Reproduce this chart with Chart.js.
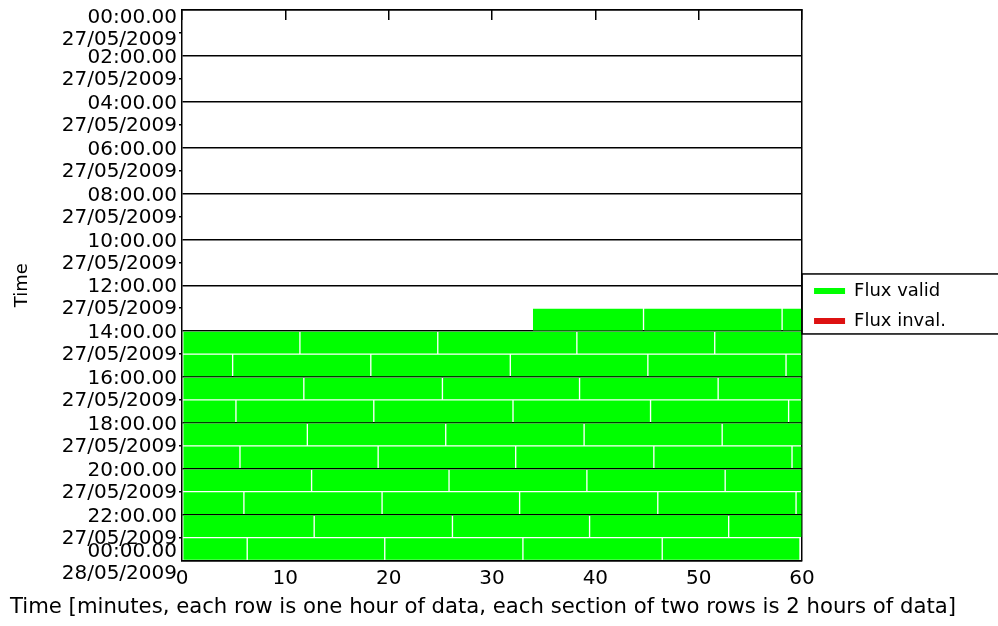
<!DOCTYPE html>
<html><head><meta charset="utf-8">
<script src="https://cdn.jsdelivr.net/npm/chart.js@4.4.1/dist/chart.umd.min.js"></script>
<style>html,body{margin:0;padding:0;background:#fff;} #wrap{width:998px;height:626px;}</style>
</head><body><div id="wrap"><canvas id="c" width="998" height="626"></canvas></div>
<script>
// ---- y-axis section labels (one per 2-hour section boundary) ----
const sectionHours = [0, 2, 4, 6, 8, 10, 12, 14, 16, 18, 20, 22, 24];
const sectionTimes = ['00:00.00','02:00.00','04:00.00','06:00.00','08:00.00','10:00.00','12:00.00','14:00.00','16:00.00','18:00.00','20:00.00','22:00.00','00:00.00'];
const sectionDates = ['27/05/2009','27/05/2009','27/05/2009','27/05/2009','27/05/2009','27/05/2009','27/05/2009','27/05/2009','27/05/2009','27/05/2009','27/05/2009','27/05/2009','28/05/2009'];
// ---- x-axis ticks (minutes within the hour) ----
const minuteTicks = [0, 10, 20, 30, 40, 50, 60];

// ---- valid-flux data: file boundaries (minutes) for each hourly row ----
const row13 = [33.9, 44.66, 58.07, 60];
const row14 = [0, 11.41, 24.75, 38.21, 51.55, 60];
const row15 = [0, 4.90, 18.27, 31.77, 45.08, 58.45, 60];
const row16 = [0, 11.79, 25.20, 38.47, 51.88, 60];
const row17 = [0, 5.22, 18.56, 32.03, 45.34, 58.70, 60];
const row18 = [0, 12.13, 25.52, 38.91, 52.27, 60];
const row19 = [0, 5.61, 18.98, 32.29, 45.66, 59.03, 60];
const row20 = [0, 12.54, 25.84, 39.18, 52.56, 60];
const row21 = [0, 5.99, 19.36, 32.67, 46.04, 59.42, 60];
const row22 = [0, 12.79, 26.17, 39.44, 52.90, 60];
const row23 = [0, 6.31, 19.62, 32.99, 46.47, 59.8];
const validHours = [13, 14, 15, 16, 17, 18, 19, 20, 21, 22, 23];
const validRows = [row13, row14, row15, row16, row17, row18, row19, row20, row21, row22, row23];
// ---- invalid-flux data: none in this period ----
const invalidHours = [];
const invalidRows = [];

function toSegments(hours, rows) {
  const out = [];
  hours.forEach((h, i) => {
    const b = rows[i];
    for (let k = 0; k < b.length - 1; k++) out.push({ x: [b[k], b[k + 1]], y: h + 0.5 });
  });
  return out;
}

Chart.defaults.font.family = "'DejaVu Sans', sans-serif";
Chart.defaults.color = '#000';
const BLACK = '#000';
const NONE = 'rgba(0,0,0,0)';

const legendFrame = {
  id: 'legendFrame',
  afterDraw(chart) {
    const lg = chart.legend;
    if (!lg || !lg.legendHitBoxes || !lg.legendHitBoxes.length) return;
    const hb = lg.legendHitBoxes;
    const last = hb[hb.length - 1];
    const top = hb[0].top - 8;
    const bottom = last.top + last.height + 4;
    const left = chart.chartArea.right;
    const ctx = chart.ctx;
    ctx.save();
    ctx.strokeStyle = BLACK;
    ctx.lineWidth = 1.5;
    ctx.strokeRect(left, top, chart.width - left + 10, bottom - top);
    ctx.restore();
  }
};

new Chart(document.getElementById('c'), {
  type: 'bar',
  data: {
    datasets: [
      { label: 'Flux valid', data: toSegments(validHours, validRows), backgroundColor: '#00ff00',
        borderColor: NONE, borderWidth: 1, borderSkipped: false, grouped: false, barPercentage: 1, categoryPercentage: 1 },
      { label: 'Flux inval.', data: toSegments(invalidHours, invalidRows), backgroundColor: '#dd1111',
        borderColor: NONE, borderWidth: 1, borderSkipped: false, grouped: false, barPercentage: 1, categoryPercentage: 1 }
    ]
  },
  options: {
    indexAxis: 'y',
    responsive: false,
    animation: false,
    devicePixelRatio: 1,
    layout: { padding: { left: 10, top: 10, right: 42, bottom: 8 } },
    plugins: {
      legend: {
        position: 'right', align: 'center', fullSize: false,
        title: { display: true, text: '', padding: { top: 27, bottom: 0 } },
        labels: { boxWidth: 31, boxHeight: 6, padding: 12, color: BLACK, font: { size: 18 } }
      },
      title: {
        display: true, position: 'bottom', align: 'center',
        text: 'Time [minutes, each row is one hour of data, each section of two rows is 2 hours of data]',
        font: { size: 21.5, weight: 'normal', lineHeight: 1 }, color: BLACK, padding: { top: 0, bottom: 0 }
      },
      tooltip: { enabled: false }
    },
    scales: {
      x: {
        type: 'linear', position: 'bottom', min: 0, max: 60,
        ticks: { padding: 6, font: { size: 20 }, color: BLACK },
        afterBuildTicks: s => { s.ticks = minuteTicks.map(v => ({ value: v })); },
        grid: { drawTicks: false, lineWidth: 1.5, color: c => (c.tick && c.tick.value === 60) ? BLACK : NONE },
        border: { display: true, color: BLACK, width: 1.5 }
      },
      x2: {
        type: 'linear', position: 'top', min: 0, max: 60,
        ticks: { display: false },
        afterBuildTicks: s => { s.ticks = minuteTicks.map(v => ({ value: v })); },
        grid: { drawOnChartArea: false, drawTicks: true, tickLength: -10, tickColor: BLACK, lineWidth: 1.5 },
        border: { display: true, color: BLACK, width: 1.5 },
        afterFit: s => { s.height = 0; s.paddingLeft = 0; s.paddingRight = 0; }
      },
      y: {
        type: 'linear', position: 'left', weight: 0, reverse: true, min: 0, max: 24, offset: false,
        ticks: { display: false },
        afterBuildTicks: s => { s.ticks = Array.from({ length: 25 }, (_, h) => ({ value: h })); },
        grid: { offset: false, lineWidth: 1.5, drawTicks: true, tickLength: 3,
                color: c => (c.tick && c.tick.value % 2 === 0) ? BLACK : NONE,
                tickColor: c => (c.tick && c.tick.value % 2 === 1) ? BLACK : NONE },
        border: { display: true, color: BLACK, width: 1.5 },
        afterFit: s => { s.width = 0; s.paddingTop = 0; s.paddingBottom = 0; }
      },
      yl: {
        type: 'linear', position: 'left', weight: 1, reverse: true, min: 0, max: 24, offset: false,
        grid: { display: false, drawTicks: false },
        border: { display: false },
        ticks: { autoSkip: false, padding: 5, labelOffset: 13, color: BLACK,
                 font: { size: 20, lineHeight: '22px' },
                 callback: (v, i) => [sectionTimes[i], sectionDates[i]] },
        afterBuildTicks: s => {
          const n = sectionHours.length;
          s.ticks = sectionHours.map((h, i) => ({ value: i === 0 ? h + 0.24 : (i === n - 1 ? h - 0.46 : h) }));
        },
        title: { display: true, text: 'Time', font: { size: 18 }, color: BLACK, padding: { top: 2, bottom: 0 } },
        afterFit: s => { s.width = 172; s.paddingTop = 0; s.paddingBottom = 0; }
      }
    }
  },
  plugins: [legendFrame]
});
</script>
</body></html>
